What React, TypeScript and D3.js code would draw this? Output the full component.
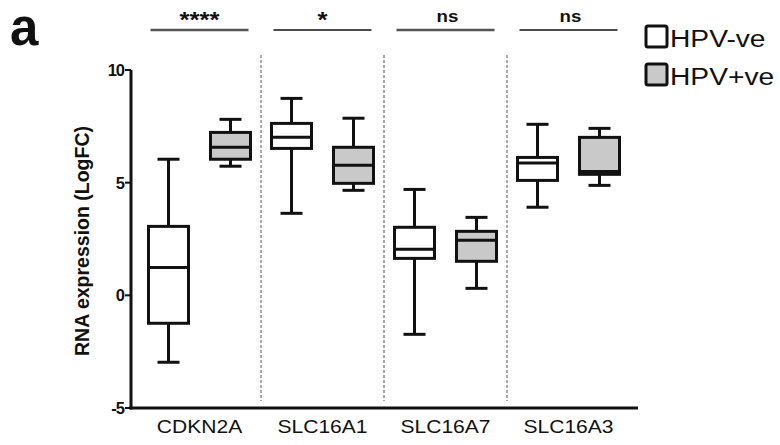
import React from "react";
import * as d3 from "d3";

const categories = ["CDKN2A", "SLC16A1", "SLC16A7", "SLC16A3"];
const groups = ["HPV-ve", "HPV+ve"];
const groupFill = ["#ffffff", "#c9c9c9"];
const significance = ["****", "*", "ns", "ns"];
const yTicks = [10, 5, 0, -5];

const negMin = [-2.97, 3.64, -1.73, 3.91];
const negQ1 = [-1.24, 6.52, 1.64, 5.1];
const negMed = [1.24, 7.01, 2.04, 5.87];
const negQ3 = [3.06, 7.63, 3.02, 6.12];
const negMax = [6.04, 8.74, 4.7, 7.59];

const posMin = [5.73, 4.66, 0.31, 4.88];
const posQ1 = [6.04, 4.97, 1.51, 5.37];
const posMed = [6.57, 5.77, 2.44, 5.5];
const posQ3 = [7.23, 6.57, 2.84, 7.01];
const posMax = [7.81, 7.86, 3.46, 7.41];

const stats = [
  { min: negMin, q1: negQ1, med: negMed, q3: negQ3, max: negMax },
  { min: posMin, q1: posQ1, med: posMed, q3: posQ3, max: posMax },
];

const W = 780;
const H = 445;
const axisX = 131;
const axisEnd = 638;
const FONT = "'Liberation Sans', Arial, sans-serif";
const SX = 1.17;

export default function App() {
  const y = d3.scaleLinear().domain([-5, 10]).range([408, 70]);
  const x = d3.scaleBand().domain(categories).range([138, 630]);
  const bw = x.bandwidth();
  const xi = d3.scalePoint().domain(groups).range([bw / 2 - 31, bw / 2 + 31]);
  const boxW = 40;
  const capW = 22;

  const Stretch = ({ x0, y0, anchor, size, weight, children, sx = SX }: any) => (
    <text
      transform={`translate(${x0},${y0}) scale(${sx},1)`}
      textAnchor={anchor}
      fontSize={size}
      fontWeight={weight}
      fontFamily={FONT}
      fill="#111"
    >
      {children}
    </text>
  );

  return (
    <svg
      width={W}
      height={H}
      style={{ position: "absolute", left: 0, top: 0, background: "#fff" }}
    >
      <rect width={W} height={H} fill="#fff" />
      {/* panel letter */}
      <text x={10} y={45} fontSize={51} fontWeight="bold" fontFamily={FONT} fill="#111">
        a
      </text>

      {/* significance */}
      {categories.map((c, i) => {
        const cx = (x(c) as number) + bw / 2;
        const isNs = significance[i] === "ns";
        return (
          <g key={"sig" + c}>
            <line
              x1={cx - 49}
              x2={cx + 49}
              y1={30}
              y2={30}
              stroke={i % 2 === 0 ? "#555" : "#111"}
              strokeWidth={i % 2 === 0 ? 2.6 : 1.6}
            />
            {isNs ? (
              <Stretch x0={cx + 2} y0={22} anchor="middle" size={16} weight="bold">
                {significance[i]}
              </Stretch>
            ) : (
              <Stretch x0={cx} y0={27} anchor="middle" size={22} weight="bold">
                {significance[i]}
              </Stretch>
            )}
          </g>
        );
      })}

      {/* separators */}
      {categories.slice(1).map((c) => (
        <line
          key={"sep" + c}
          x1={x(c) as number}
          x2={x(c) as number}
          y1={55}
          y2={401}
          stroke="#555"
          strokeWidth={1}
          strokeDasharray="3,2"
        />
      ))}

      {/* boxes */}
      {categories.map((c, i) =>
        groups.map((g, gi) => {
          const s = stats[gi];
          const cx = (x(c) as number) + (xi(g) as number);
          return (
            <g key={c + g} stroke="#111" strokeWidth={3} fill="none">
              <line x1={cx} x2={cx} y1={y(s.max[i])} y2={y(s.q3[i])} />
              <line x1={cx} x2={cx} y1={y(s.q1[i])} y2={y(s.min[i])} />
              <line x1={cx - capW / 2} x2={cx + capW / 2} y1={y(s.max[i])} y2={y(s.max[i])} />
              <line x1={cx - capW / 2} x2={cx + capW / 2} y1={y(s.min[i])} y2={y(s.min[i])} />
              <rect
                x={cx - boxW / 2}
                y={y(s.q3[i])}
                width={boxW}
                height={y(s.q1[i]) - y(s.q3[i])}
                fill={groupFill[gi]}
              />
              <line x1={cx - boxW / 2} x2={cx + boxW / 2} y1={y(s.med[i])} y2={y(s.med[i])} />
            </g>
          );
        })
      )}

      {/* y axis */}
      <line x1={axisX} x2={axisX} y1={y(10)} y2={y(-5) + 1.5} stroke="#111" strokeWidth={3} />
      {yTicks.map((t) => (
        <g key={"t" + t}>
          <line x1={axisX - 6} x2={axisX} y1={y(t)} y2={y(t)} stroke="#111" strokeWidth={2} />
          <text
            x={axisX - 7}
            y={y(t) + 6}
            textAnchor="end"
            fontSize={16.5}
            fontWeight="bold"
            fontFamily={FONT}
            fill="#111"
            letterSpacing={-1}
          >
            {t}
          </text>
        </g>
      ))}
      <text
        transform={`translate(89,${(y(10) + y(-5)) / 2 + 2}) rotate(-90)`}
        textAnchor="middle"
        fontSize={19.5}
        fontWeight="bold"
        fontFamily={FONT}
        fill="#111"
      >
        RNA expression (LogFC)
      </text>

      {/* x axis */}
      <line x1={axisX - 1.5} x2={axisEnd} y1={y(-5)} y2={y(-5)} stroke="#111" strokeWidth={3} />
      {categories.map((c) => (
        <Stretch key={"l" + c} x0={(x(c) as number) + bw / 2} y0={433} anchor="middle" size={18} weight="normal">
          {c}
        </Stretch>
      ))}

      {/* legend */}
      {groups.map((g, gi) => (
        <g key={"lg" + g}>
          <rect
            x={646}
            y={26 + gi * 38}
            width={21}
            height={21}
            rx={2}
            fill={groupFill[gi]}
            stroke="#111"
            strokeWidth={3}
          />
          <Stretch x0={670} y0={47 + gi * 38} anchor="start" size={23.5} weight="normal" sx={1.2}>
            {g}
          </Stretch>
        </g>
      ))}
    </svg>
  );
}
